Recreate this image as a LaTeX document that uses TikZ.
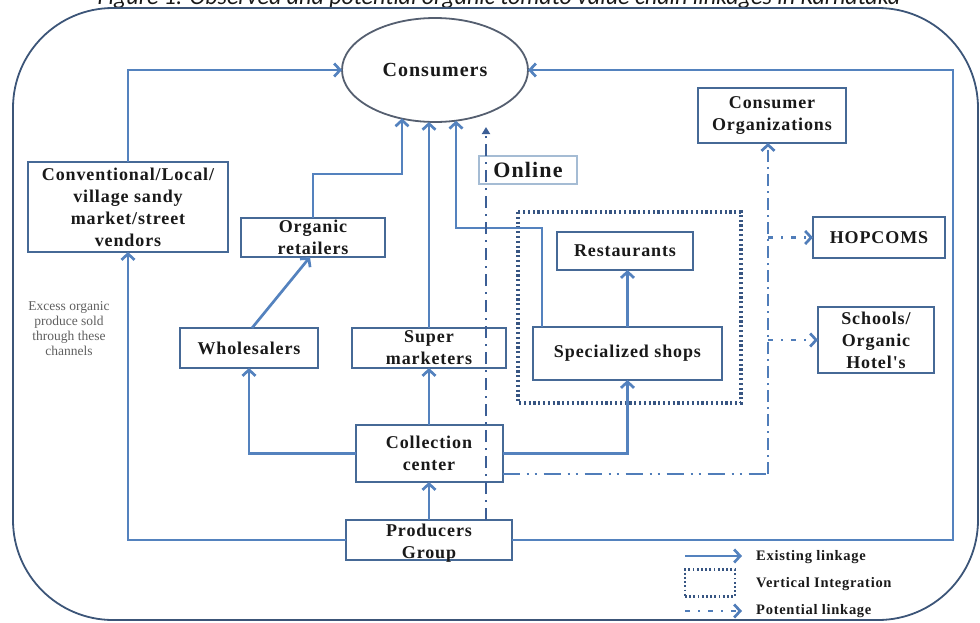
\documentclass[tikz,border=0pt]{standalone}
\usepackage{fontspec}
\setmainfont{Liberation Serif}
\newfontfamily\bxfont{Liberation Serif}[LetterSpace=5]
\newfontfamily\capfont{Carlito}
\usetikzlibrary{arrows.meta,shapes.geometric,calc}
\definecolor{linkc}{RGB}{84,130,190}
\definecolor{boxc}{RGB}{70,105,150}
\definecolor{ellc}{RGB}{85,95,112}
\definecolor{outerc}{RGB}{60,85,120}
\definecolor{dotc}{RGB}{55,85,130}
\definecolor{potc}{RGB}{80,125,185}
\definecolor{onlc}{RGB}{60,95,150}
\definecolor{onlboxc}{RGB}{165,188,212}
\definecolor{txtc}{RGB}{25,25,25}
\definecolor{grayt}{RGB}{95,95,95}
\begin{document}
\begin{tikzpicture}[x=1pt,y=-1pt,
  box/.style={draw=boxc, line width=2pt, fill=white, inner sep=0pt, outer sep=0pt, align=center, text=txtc,
    font=\bxfont\bfseries\fontsize{18}{22}\selectfont},
  link/.style={draw=linkc, line width=2.7pt, -{Straight Barb[length=6pt,width=13pt]}},
  pot/.style={draw=potc, line width=2.7pt, dash pattern=on 12pt off 5pt on 2pt off 5pt, -{Straight Barb[length=6pt,width=13pt]}},
  potb/.style={draw=potc, line width=2.7pt, dash pattern=on 5pt off 8pt on 2pt off 8pt, -{Straight Barb[length=6pt,width=13pt]}},
  potc/.style={draw=potc, line width=2.7pt, dash pattern=on 17pt off 7pt on 2pt off 6pt on 2pt off 7pt},
  onl/.style={draw=onlc, line width=2.7pt, dash pattern=on 12pt off 6pt on 2pt off 6pt, -{Triangle[length=7pt,width=8pt]}},
  vint/.style={draw=dotc, line width=3.2pt, dash pattern=on 2.2pt off 2.6pt},
  legt/.style={anchor=west, inner sep=0pt, text=txtc, font=\bxfont\bfseries\fontsize{14.5}{16}\selectfont}
]
\useasboundingbox (0,0) rectangle (980,622);
% title (clipped at the top, as in the source)
\node[anchor=base, inner sep=0pt, text=txtc, font=\capfont\itshape\fontsize{24}{28}\selectfont] (title) at (499,4)
  {Figure 1: Observed and potential organic tomato value chain linkages in Karnataka};
% outer frame
\draw[outerc, line width=1.8pt, rounded corners=100pt] (13,8) rectangle (978,620);

% nodes
\node[ellipse, draw=ellc, line width=1.8pt, fill=white, minimum width=186pt, minimum height=104pt, inner sep=0pt, outer sep=0pt,
  text=txtc, font=\bxfont\bfseries\fontsize{20}{22}\selectfont] (cons) at (435,70) {Consumers};
\node[box, minimum width=200pt, minimum height=90pt] (conv) at (128,207) {Conventional/Local/\\village sandy\\market/street\\vendors};
\node[box, minimum width=144pt, minimum height=39pt] (orgret) at (313,237.5) {Organic\\retailers};
\node[box, minimum width=138pt, minimum height=40pt] (whole) at (249,348) {Wholesalers};
\node[box, minimum width=154pt, minimum height=40pt] (super) at (429,348) {Super\\marketers};
\node[box, minimum width=147pt, minimum height=57pt] (coll) at (429,453.5) {Collection\\center};
\node[box, minimum width=166pt, minimum height=40pt] (prod) at (429,540) {};
\node[inner sep=0pt, align=center, text=txtc, font=\bxfont\bfseries\fontsize{18}{22}\selectfont] (prodt) at (429,543) {Producers\\Group};
\node[box, minimum width=136pt, minimum height=38pt] (rest) at (625,251) {Restaurants};
\node[box, minimum width=189pt, minimum height=53pt] (spec) at (627.5,353.5) {Specialized shops};
\node[box, minimum width=148pt, minimum height=55pt] (corg) at (772,115.5) {Consumer\\Organizations};
\node[box, minimum width=132pt, minimum height=41pt] (hop) at (879,237.5) {HOPCOMS};
\node[box, minimum width=116pt, minimum height=66pt] (school) at (876,340) {Schools/\\Organic\\Hotel's};
\node[draw=onlboxc, line width=2.8pt, minimum width=98pt, minimum height=28pt, inner sep=0pt, outer sep=0pt, text=txtc,
  font=\bxfont\bfseries\fontsize{22}{24}\selectfont] (online) at (528,170) {Online};
\node[inner sep=0pt, align=center, text=grayt, font=\fontsize{13.5}{15}\selectfont] (exc) at (69,329)
  {Excess organic\\produce sold\\through these\\channels};

% vertical integration frame
\draw[vint] (518,212) rectangle (741,403);

% existing linkages
\draw[link] (conv.north) |- (cons.west);
\draw[link] (prod.west) -| (conv.south);
\coordinate (rc) at (953,540);
\draw[link] (prod.east) -- (rc) |- (cons.east);
\draw[link] (prod.north) -- (prod.north |- coll.south);
\draw[link] (coll.north) -- (coll.north |- super.south);
\draw[link] (super.north) -- (super.north |- cons.264.5);
\coordinate (a1) at (402,174);
\draw[link] (orgret.north) |- (a1) -- (a1 |- cons.235.8);
\coordinate (b1) at (456,228);
\draw[link] ($(spec.north west)+(9,0)$) |- (b1) -- (b1 |- cons.292.5);
\draw[link] (spec.north) -- (spec.north |- rest.south);
\draw[link] (coll.east) -| (spec.south);
\draw[link] (coll.west) -| (whole.south);
\draw[link] ($(whole.north)+(3,0)$) -- ($(orgret.south)+(-3,0)$);

% potential linkages
\coordinate (onlt) at (486,127);
\draw[onl] (prod.north -| onlt) -- (onlt);
\coordinate (vx) at (768,474);
\draw[potc] ($(coll.south east)+(0,-8)$) -- (vx);
\draw[pot] (vx) -- (vx |- corg.south);
\draw[potb] (vx |- hop.west) -- (hop.west);
\draw[potb] (vx |- school.west) -- (school.west);

% legend
\coordinate (la) at (685,556);
\coordinate (lb) at (742,556);
\draw[link] (la) -- (lb);
\node[legt] (lt1) at (756,557) {Existing linkage};
\node[draw=dotc, line width=2.4pt, dash pattern=on 1.8pt off 2.4pt, minimum width=50pt, minimum height=27pt, inner sep=0pt] (lv) at (710,583) {};
\node[legt] (lt2) at (756,584) {Vertical Integration};
\coordinate (lc) at (685,611);
\coordinate (ld) at (742,611);
\draw[potb] (lc) -- (ld);
\node[legt] (lt3) at (756,611) {Potential linkage};
\end{tikzpicture}
\end{document}
